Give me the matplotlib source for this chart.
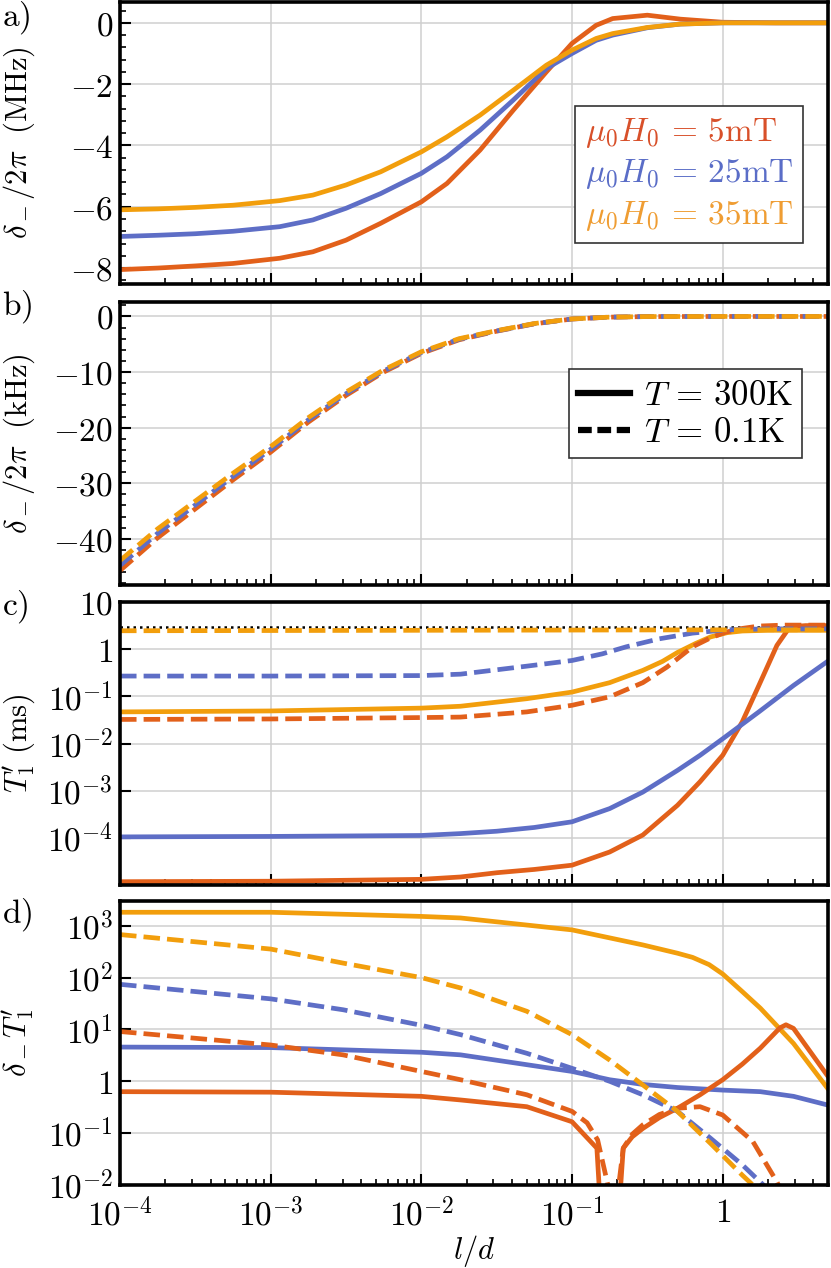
import numpy as np
import matplotlib
matplotlib.use('Agg')
import matplotlib.pyplot as plt
from matplotlib.ticker import FixedLocator, NullLocator, LogLocator, NullFormatter, MultipleLocator
from matplotlib.lines import Line2D

plt.rcParams['mathtext.fontset'] = 'cm'
plt.rcParams['font.family'] = 'serif'

RED = '#E2601A'
BLUE = '#5E6EC6'
ORANGE = '#F29E0C'
TXT = ['#D8502A', '#5A6DC7', '#EF9D33']

# ---- panel a : delta_-/2pi (MHz), x given as log10(l/d)
xa = [-4, -3.75, -3.5, -3.25, -2.94, -2.72, -2.5, -2.27, -2.0, -1.83, -1.61, -1.39, -1.17,
      -1.0, -0.84, -0.73, -0.5, -0.28, 0, 0.35, 0.7]
a_5mT = [-8.05, -8.0, -7.93, -7.85, -7.68, -7.47, -7.09, -6.54, -5.84, -5.24, -4.15, -2.85, -1.60,
         -0.67, -0.08, 0.14, 0.25, 0.12, 0.02, 0.0, 0.0]
a_25mT = [-6.97, -6.93, -6.88, -6.8, -6.65, -6.43, -6.05, -5.57, -4.91, -4.37, -3.5, -2.52, -1.49,
          -1.0, -0.57, -0.40, -0.16, -0.04, 0.0, 0.0, 0.0]
a_35mT = [-6.1, -6.07, -6.02, -5.95, -5.8, -5.62, -5.29, -4.86, -4.21, -3.72, -3.01, -2.2, -1.38,
          -0.89, -0.51, -0.35, -0.15, -0.04, 0.0, 0.0, 0.0]

# ---- panel b : delta_-/2pi (kHz)
xb = [-4, -3.75, -3.5, -3.25, -3, -2.75, -2.5, -2.25, -2, -1.75, -1.5, -1.25, -1, -0.75, -0.5, 0, 0.35, 0.7]
b_5mT = [-45.7, -39.8, -34.6, -29.4, -24.4, -19.0, -14.2, -10.0, -6.65, -4.2, -2.65, -1.33, -0.46, -0.12, -0.02, 0, 0, 0]
b_25mT = [-44.8, -39.0, -33.9, -28.8, -23.9, -18.6, -13.9, -9.8, -6.5, -4.1, -2.6, -1.3, -0.45, -0.12, -0.02, 0, 0, 0]
b_35mT = [-43.9, -38.2, -33.2, -28.2, -23.4, -18.2, -13.6, -9.6, -6.35, -4.0, -2.55, -1.27, -0.44, -0.12, -0.02, 0, 0, 0]

# ---- panel c : T1' (ms), values as log10
c_5mT_hot_x = [-4, -3, -2, -1.74, -1.5, -1.25, -1, -0.75, -0.53, -0.3, -0.15, 0, 0.13, 0.24, 0.36, 0.43, 0.47, 0.55, 0.7]
c_5mT_hot = [-4.93, -4.92, -4.88, -4.83, -4.74, -4.67, -4.58, -4.30, -3.94, -3.31, -2.81, -2.25, -1.54, -0.77, 0.08, 0.40, 0.48, 0.5, 0.5]
c_25mT_hot_x = [-4, -3, -2, -1.74, -1.5, -1.25, -1, -0.75, -0.53, -0.3, -0.15, 0, 0.24, 0.47, 0.7]
c_25mT_hot = [-3.98, -3.97, -3.95, -3.91, -3.86, -3.78, -3.66, -3.38, -3.03, -2.57, -2.25, -1.90, -1.33, -0.77, -0.25]
c_35mT_hot_x = [-4, -3, -2, -1.74, -1.3, -1, -0.75, -0.53, -0.4, -0.3, -0.18, -0.08, 0.03, 0.13, 0.3, 0.7]
c_35mT_hot = [-1.33, -1.31, -1.25, -1.21, -1.05, -0.91, -0.71, -0.45, -0.26, -0.07, 0.12, 0.26, 0.35, 0.385, 0.40, 0.40]
c_5mT_cold_x = [-4, -3, -2, -1.74, -1.3, -1, -0.75, -0.53, -0.37, -0.2, -0.08, 0.02, 0.13, 0.24, 0.4, 0.7]
c_5mT_cold = [-1.49, -1.48, -1.45, -1.44, -1.33, -1.19, -1.01, -0.71, -0.38, 0.05, 0.24, 0.36, 0.44, 0.49, 0.51, 0.51]
c_25mT_cold_x = [-4, -3, -2, -1.74, -1.3, -1, -0.8, -0.64, -0.42, -0.2, 0.02, 0.3, 0.7]
c_25mT_cold = [-0.57, -0.57, -0.56, -0.53, -0.36, -0.24, -0.10, 0.05, 0.22, 0.34, 0.41, 0.43, 0.43]
c_35mT_cold_x = [-4, -2, 0, 0.7]
c_35mT_cold = [0.39, 0.40, 0.41, 0.41]
c_limit = 2.95

# ---- panel d : delta_- T1', values as log10
d_5mT_hot_x = [-4, -3, -2, -1.74, -1.3, -1, -0.835, -0.80, -0.70, -0.66, -0.6, -0.53, -0.42, -0.3, -0.15,
               0, 0.13, 0.25, 0.33, 0.38, 0.42, 0.47, 0.7]
d_5mT_hot = [-0.2, -0.21, -0.29, -0.36, -0.49, -0.78, -1.29, -3.0, -3.0, -1.29, -1.07, -0.91, -0.70, -0.52, -0.26,
             0.03, 0.33, 0.64, 0.88, 1.03, 1.09, 1.02, 0.09]
d_25mT_hot_x = [-4, -3, -2, -1.74, -1.3, -1, -0.75, -0.53, -0.3, 0, 0.25, 0.47, 0.7]
d_25mT_hot = [0.66, 0.65, 0.56, 0.51, 0.32, 0.19, 0.03, -0.06, -0.12, -0.17, -0.2, -0.29, -0.46]
d_35mT_hot_x = [-4, -3, -2, -1.74, -1, -0.53, -0.3, -0.2, -0.09, 0, 0.13, 0.25, 0.47, 0.7]
d_35mT_hot = [3.26, 3.26, 3.18, 3.15, 2.92, 2.63, 2.47, 2.39, 2.25, 2.07, 1.73, 1.41, 0.73, -0.15]
d_5mT_cold_x = [-4, -3, -2.52, -2, -1.74, -1.3, -1, -0.9, -0.83, -0.715, -0.66, -0.6, -0.53, -0.42, -0.3,
                -0.15, 0, 0.2, 0.36, 0.45]
d_5mT_cold = [0.96, 0.70, 0.51, 0.19, 0.03, -0.26, -0.58, -0.8, -1.13, -2.6, -1.29, -1.02, -0.84, -0.64, -0.52,
              -0.49, -0.65, -1.16, -1.94, -2.5]
d_25mT_cold_x = [-4, -3, -2.52, -2, -1.74, -1.3, -1, -0.75, -0.53, -0.3, -0.08, 0.13, 0.27, 0.4]
d_25mT_cold = [1.87, 1.59, 1.38, 1.08, 0.90, 0.54, 0.25, 0.0, -0.26, -0.58, -1.10, -1.61, -2.0, -2.5]
d_35mT_cold_x = [-4, -3, -2.52, -2, -1.74, -1.3, -1, -0.75, -0.53, -0.3, -0.08, 0.13, 0.2, 0.3]
d_35mT_cold = [2.83, 2.55, 2.28, 2.0, 1.80, 1.35, 0.90, 0.41, -0.07, -0.58, -1.2, -1.81, -2.0, -2.5]

field_labels = [r'$\mu_0H_0\,=\,5\mathrm{mT}$', r'$\mu_0H_0\,=\,25\mathrm{mT}$', r'$\mu_0H_0\,=\,35\mathrm{mT}$']
temp_labels = [r'$T\,=\,300\mathrm{K}$', r'$T\,=\,0.1\mathrm{K}$']

LW = 3.4
DASH = (3.5, 1.5)
FS = 24
LFS = 22

fig = plt.figure(figsize=(8.31, 12.68), dpi=100)
L, W = 120 / 831, 708 / 831
ax_a = fig.add_axes([L, 1 - 284 / 1268, W, 282 / 1268])
ax_b = fig.add_axes([L, 1 - 585 / 1268, W, 283 / 1268])
ax_c = fig.add_axes([L, 1 - 885 / 1268, W, 283 / 1268])
ax_d = fig.add_axes([L, 1 - 1185 / 1268, W, 284 / 1268])


def p(v):
    return 10 ** np.array(v, dtype=float)


def style(ax, last=False):
    ax.set_xscale('log')
    ax.set_xlim(1e-4, 5)
    ax.xaxis.set_major_locator(FixedLocator([1e-4, 1e-3, 1e-2, 1e-1, 1]))
    ax.xaxis.set_minor_locator(LogLocator(base=10, subs=np.arange(2, 10), numticks=30))
    ax.xaxis.set_minor_formatter(NullFormatter())
    if last:
        ax.set_xticklabels([r'$10^{-4}$', r'$10^{-3}$', r'$10^{-2}$', r'$10^{-1}$', r'$1$'])
    else:
        ax.set_xticklabels([])
    ax.tick_params(which='both', direction='in', top=False, right=False, labelsize=FS)
    ax.tick_params(axis='y', pad=5)
    ax.tick_params(axis='x', pad=9)
    ax.tick_params(which='major', length=8, width=1.5)
    ax.tick_params(which='minor', length=4, width=1.2)
    ax.grid(True, which='major', color='#cfcfcf', lw=1.1)
    ax.set_axisbelow(True)
    for s in ax.spines.values():
        s.set_linewidth(2.6)
    ax.yaxis.set_label_coords(-0.117, 0.5)


# panel a
la = []
for y, c in zip([a_5mT, a_25mT, a_35mT], [RED, BLUE, ORANGE]):
    la += ax_a.plot(p(xa), y, color=c, lw=LW)
style(ax_a)
ax_a.set_ylim(-8.52, 0.68)
ax_a.set_yticks([0, -2, -4, -6, -8], [r'$0$', r'$-2$', r'$-4$', r'$-6$', r'$-8$'])
ax_a.yaxis.set_minor_locator(MultipleLocator(0.4))
ax_a.set_ylabel(r'$\delta_-/2\pi\ \ (\mathrm{MHz})$', fontsize=LFS)
leg = ax_a.legend(la, field_labels, loc='upper right', bbox_to_anchor=(0.965, 0.631),
                  handlelength=0, handletextpad=0, fontsize=24, fancybox=False,
                  edgecolor='#333333', framealpha=1, borderaxespad=0, borderpad=0.3,
                  labelspacing=0.22)
leg.get_frame().set_linewidth(1.2)
for h in leg.legend_handles:
    h.set_visible(False)
for t, c in zip(leg.get_texts(), TXT):
    t.set_color(c)

# panel b
for y, c in zip([b_5mT, b_25mT, b_35mT], [RED, BLUE, ORANGE]):
    ax_b.plot(p(xb), y, color=c, lw=LW, dashes=DASH)
style(ax_b)
ax_b.set_ylim(-48.3, 2.6)
ax_b.set_yticks([0, -10, -20, -30, -40], [r'$0$', r'$-10$', r'$-20$', r'$-30$', r'$-40$'])
ax_b.yaxis.set_minor_locator(MultipleLocator(2))
ax_b.set_ylabel(r'$\delta_-/2\pi\ \ (\mathrm{kHz})$', fontsize=LFS)
tl = [Line2D([], [], color='black', lw=4.5), Line2D([], [], color='black', lw=4.5, dashes=(2.2, 0.9))]
leg_b = ax_b.legend(tl, temp_labels, loc='upper right',
                    bbox_to_anchor=(0.963, 0.763), handlelength=1.5, handletextpad=0.4,
                    fontsize=25, fancybox=False, edgecolor='#333333', framealpha=1,
                    borderaxespad=0, borderpad=0.25, labelspacing=0.1)
leg_b.get_frame().set_linewidth(1.2)

# panel c
ax_c.axhline(c_limit, color='black', lw=1.8, ls=(0, (1, 1.6)))
ax_c.plot(p(c_5mT_hot_x), p(c_5mT_hot), color=RED, lw=LW)
ax_c.plot(p(c_25mT_hot_x), p(c_25mT_hot), color=BLUE, lw=LW)
ax_c.plot(p(c_35mT_hot_x), p(c_35mT_hot), color=ORANGE, lw=LW)
ax_c.plot(p(c_5mT_cold_x), p(c_5mT_cold), color=RED, lw=LW, dashes=DASH)
ax_c.plot(p(c_25mT_cold_x), p(c_25mT_cold), color=BLUE, lw=LW, dashes=DASH)
ax_c.plot(p(c_35mT_cold_x), p(c_35mT_cold), color=ORANGE, lw=LW, dashes=DASH)
ax_c.set_yscale('log')
style(ax_c)
ax_c.set_ylim(1e-5, 10)
ax_c.set_yticks([10, 1, 1e-1, 1e-2, 1e-3, 1e-4],
                [r'$10$', r'$1$', r'$10^{-1}$', r'$10^{-2}$', r'$10^{-3}$', r'$10^{-4}$'])
ax_c.yaxis.set_minor_locator(NullLocator())
ax_c.set_ylabel(r"$T_1'\ (\mathrm{ms})$", fontsize=LFS)

# panel d
ax_d.plot(p(d_35mT_hot_x), p(d_35mT_hot), color=ORANGE, lw=LW)
ax_d.plot(p(d_25mT_hot_x), p(d_25mT_hot), color=BLUE, lw=LW)
ax_d.plot(p(d_5mT_hot_x), p(d_5mT_hot), color=RED, lw=LW)
ax_d.plot(p(d_5mT_cold_x), p(d_5mT_cold), color=RED, lw=LW, dashes=DASH)
ax_d.plot(p(d_25mT_cold_x), p(d_25mT_cold), color=BLUE, lw=LW, dashes=DASH)
ax_d.plot(p(d_35mT_cold_x), p(d_35mT_cold), color=ORANGE, lw=LW, dashes=DASH)
ax_d.set_yscale('log')
style(ax_d, last=True)
ax_d.set_ylim(1e-2, 3e3)
ax_d.set_yticks([1e3, 1e2, 10, 1, 1e-1, 1e-2],
                [r'$10^3$', r'$10^2$', r'$10^1$', r'$1$', r'$10^{-1}$', r'$10^{-2}$'])
ax_d.yaxis.set_minor_locator(NullLocator())
ax_d.set_ylabel(r"$\delta_-T_1'$", fontsize=LFS)
ax_d.set_xlabel(r'$l/d$', fontsize=LFS, labelpad=0)

for lab, yp in zip(['a)', 'b)', 'c)', 'd)'], [18, 307, 607, 915]):
    fig.text(0.002, 1 - yp / 1268, r'$\mathrm{' + lab + '}$', fontsize=24, va='center', ha='left')

fig.savefig('out.png', dpi=100)
